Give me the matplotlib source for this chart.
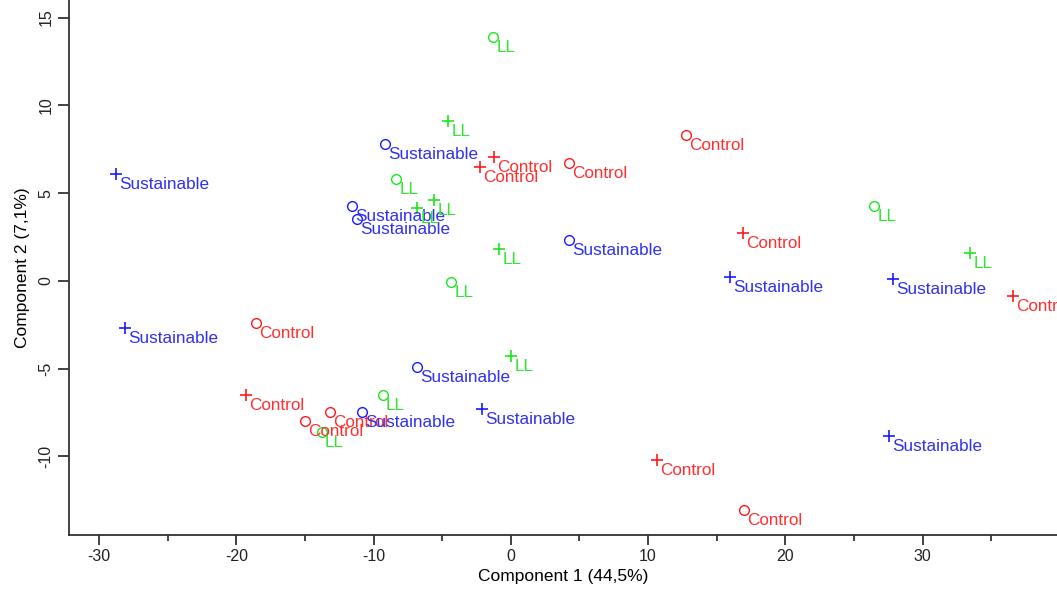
import matplotlib
matplotlib.use("Agg")
import matplotlib.pyplot as plt
from matplotlib.ticker import MultipleLocator

plt.rcParams['font.family'] = ['Liberation Sans', 'DejaVu Sans']
plt.rcParams['axes.unicode_minus'] = False

# scores, grouped by treatment and by marker type (o / +)
ctrl_o_x = [12.78, 4.25, -18.55, -13.17, -14.99, 17.0]
ctrl_o_y = [8.30, 6.70, -2.41, -7.48, -7.99, -13.06]
sust_o_x = [-9.16, -11.57, -11.2, 4.25, -6.83, -10.84]
sust_o_y = [7.78, 4.25, 3.51, 2.32, -4.91, -7.48]
ll_o_x = [-1.29, -8.36, 26.48, -4.35, -9.31, -13.76]
ll_o_y = [13.88, 5.79, 4.26, -0.07, -6.48, -8.62]

ctrl_p_x = [-1.22, -2.24, 16.93, 36.61, -19.29, 10.66]
ctrl_p_y = [7.04, 6.48, 2.72, -0.87, -6.51, -10.21]
sust_p_x = [-28.77, 15.98, 27.87, -28.1, -2.09, 27.58]
sust_p_y = [6.08, 0.21, 0.10, -2.69, -7.31, -8.84]
ll_p_x = [-4.57, -5.59, -6.83, -0.85, 33.48, 0.02]
ll_p_y = [9.09, 4.6, 4.14, 1.81, 1.58, -4.29]

groups = [
    ("Control", ctrl_o_x, ctrl_o_y, ctrl_p_x, ctrl_p_y, '#ff1a1a', '#ff3030'),
    ("Sustainable", sust_o_x, sust_o_y, sust_p_x, sust_p_y, '#1a1aff', '#3030f0'),
    ("LL", ll_o_x, ll_o_y, ll_p_x, ll_p_y, '#1ee61e', '#2ee62e'),
]

fig = plt.figure(figsize=(10.57, 5.9), dpi=100)
ax = fig.add_axes([69/1057, 1-535/590, 1-69/1057, 535/590])

for name, ox, oy, px, py, mc, tc in groups:
    ax.plot(ox, oy, 'o', mfc='none', mec=mc, ms=7, mew=1.0, clip_on=False)
    ax.plot(px, py, '+', color=mc, ms=8, mew=1.2, clip_on=False)
    for x, y in list(zip(ox, oy)) + list(zip(px, py)):
        ax.annotate(name, (x, y), xytext=(3, -3), textcoords='offset pixels',
                    ha='left', va='top', color=tc, fontsize=12.3,
                    annotation_clip=False)

ax.set_xlim(-32.2, 39.8)
ax.set_ylim(-14.48, 16.0)
ax.xaxis.set_major_locator(MultipleLocator(10))
ax.xaxis.set_minor_locator(MultipleLocator(5))
ax.yaxis.set_major_locator(MultipleLocator(5))

for s in ['top', 'right']:
    ax.spines[s].set_visible(False)
for s in ['left', 'bottom']:
    ax.spines[s].set_color('#333333')
    ax.spines[s].set_linewidth(1.3)

ax.tick_params(axis='x', which='major', direction='out', length=7, width=1.3,
               color='#333333', labelsize=11.5, pad=3, labelcolor='#222222')
ax.tick_params(axis='x', which='minor', direction='out', length=4, width=1.3,
               color='#333333')
ax.tick_params(axis='y', direction='out', length=8, width=1.3,
               color='#333333', labelsize=11.5, pad=3, labelcolor='#222222')
for lab in ax.get_yticklabels():
    lab.set_rotation(90)
    lab.set_va('center')

ax.set_xlabel("Component 1 (44,5%)", fontsize=12.5, labelpad=4)
ax.set_ylabel("Component 2 (7,1%)", fontsize=12.5, labelpad=6)

fig.savefig("out.png", dpi=100)
